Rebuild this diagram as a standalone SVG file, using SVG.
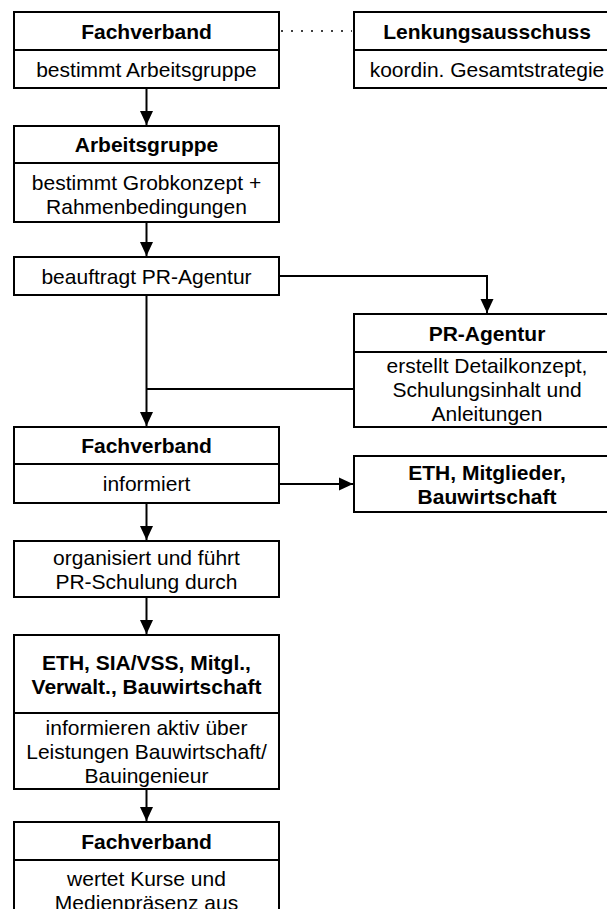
<svg xmlns="http://www.w3.org/2000/svg" width="607" height="909" viewBox="0 0 607 909">
<style>
.box{fill:#fff;stroke:#000;stroke-width:2}
.div{stroke:#000;stroke-width:2}
.c{fill:none;stroke:#000;stroke-width:2}
.dot{fill:none;stroke:#000;stroke-width:1.5;stroke-dasharray:2 8}
text{font-family:"Liberation Sans",Arial,sans-serif;font-size:21px;fill:#000;text-anchor:middle}
.b{font-weight:bold}
</style>
<defs>
<marker id="ah" markerUnits="userSpaceOnUse" markerWidth="14" markerHeight="14" viewBox="0 0 14 14" refX="14" refY="7" orient="auto">
<path d="M0,0.5 L14,7 L0,13.5 Z" fill="#000"/>
</marker>
</defs>
<rect width="607" height="909" fill="#fff"/>
<g id="connectors">
<path class="dot" d="M281,31 H352"/>
<path class="c" d="M146.5,88 V125" marker-end="url(#ah)"/>
<path class="c" d="M146.5,222 V256" marker-end="url(#ah)"/>
<path class="c" d="M279,276 H487 V313" marker-end="url(#ah)"/>
<path class="c" d="M146.5,295 V426" marker-end="url(#ah)"/>
<path class="c" d="M354,389 H146.5"/>
<path class="c" d="M279,484 H353" marker-end="url(#ah)"/>
<path class="c" d="M146.5,503 V540" marker-end="url(#ah)"/>
<path class="c" d="M146.5,597 V634" marker-end="url(#ah)"/>
<path class="c" d="M146.5,789 V821" marker-end="url(#ah)"/>
</g>
<g id="fachverband1">
<rect class="box" x="14" y="12" width="265" height="76"/>
<line class="div" x1="14" y1="50" x2="279" y2="50"/>
<text class="b" x="146.5" y="38.5">Fachverband</text>
<text x="146.5" y="76.5">bestimmt Arbeitsgruppe</text>
</g>
<g id="lenkungsausschuss">
<rect class="box" x="354" y="12" width="266" height="76"/>
<line class="div" x1="354" y1="50" x2="620" y2="50"/>
<text class="b" x="487" y="38.5">Lenkungsausschuss</text>
<text x="487" y="76.5">koordin. Gesamtstrategie</text>
</g>
<g id="arbeitsgruppe">
<rect class="box" x="14" y="126" width="265" height="96"/>
<line class="div" x1="14" y1="163" x2="279" y2="163"/>
<text class="b" x="146.5" y="152">Arbeitsgruppe</text>
<text x="146.5" y="190">bestimmt Grobkonzept +</text>
<text x="146.5" y="214">Rahmenbedingungen</text>
</g>
<g id="beauftragt">
<rect class="box" x="14" y="257" width="265" height="38"/>
<text x="146.5" y="283.5">beauftragt PR-Agentur</text>
</g>
<g id="pr-agentur">
<rect class="box" x="354" y="314" width="266" height="113"/>
<line class="div" x1="354" y1="352" x2="620" y2="352"/>
<text class="b" x="487" y="340.5">PR-Agentur</text>
<text x="487" y="372.5">erstellt Detailkonzept,</text>
<text x="487" y="396.5">Schulungsinhalt und</text>
<text x="487" y="420.5">Anleitungen</text>
</g>
<g id="fachverband2">
<rect class="box" x="14" y="427" width="265" height="76"/>
<line class="div" x1="14" y1="464" x2="279" y2="464"/>
<text class="b" x="146.5" y="453">Fachverband</text>
<text x="146.5" y="491">informiert</text>
</g>
<g id="eth-mitglieder">
<rect class="box" x="354" y="456" width="266" height="56"/>
<text class="b" x="487" y="480">ETH, Mitglieder,</text>
<text class="b" x="487" y="504">Bauwirtschaft</text>
</g>
<g id="organisiert">
<rect class="box" x="14" y="541" width="265" height="56"/>
<text x="146.5" y="564.5">organisiert und führt</text>
<text x="146.5" y="588.5">PR-Schulung durch</text>
</g>
<g id="eth-sia">
<rect class="box" x="14" y="635" width="265" height="154"/>
<line class="div" x1="14" y1="713" x2="279" y2="713"/>
<text class="b" x="146.5" y="669.5">ETH, SIA/VSS, Mitgl.,</text>
<text class="b" x="146.5" y="693.5">Verwalt., Bauwirtschaft</text>
<text x="146.5" y="734.5">informieren aktiv über</text>
<text x="146.5" y="758.5">Leistungen Bauwirtschaft/</text>
<text x="146.5" y="782.5">Bauingenieur</text>
</g>
<g id="fachverband3">
<rect class="box" x="14" y="822" width="265" height="110"/>
<line class="div" x1="14" y1="860" x2="279" y2="860"/>
<text class="b" x="146.5" y="848.5">Fachverband</text>
<text x="146.5" y="885.5">wertet Kurse und</text>
<text x="146.5" y="909.5">Medienpräsenz aus</text>
</g>
</svg>
